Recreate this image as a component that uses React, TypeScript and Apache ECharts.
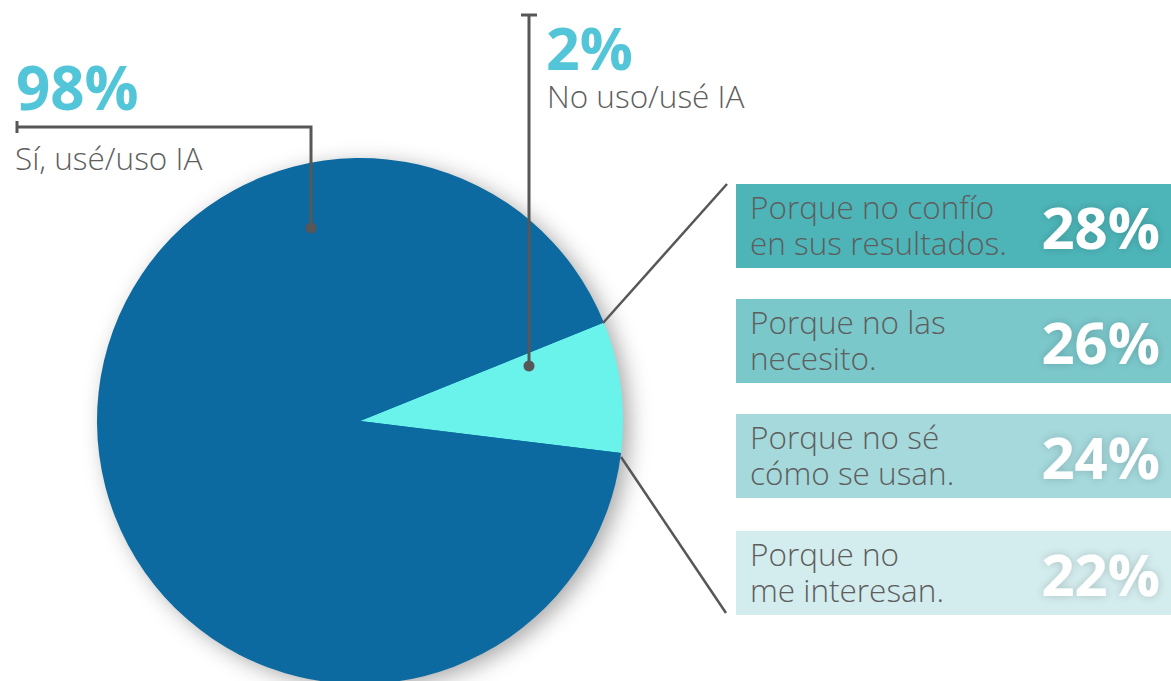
import React, { useEffect, useRef } from "react";
import * as echarts from "echarts";

// ---- data ----
const pieNames = ["No uso/usé IA", "Sí, usé/uso IA"];
const pieValues = [2, 98];
const pieColors = ["#6af3ea", "#0c6aa1"];

const reasons = [
  ["Porque no confío", "en sus resultados."],
  ["Porque no las", "necesito."],
  ["Porque no sé", "cómo se usan."],
  ["Porque no", "me interesan."],
];
const reasonValues = [28, 26, 24, 22];
const reasonColors = ["#4db5b8", "#7bc8cb", "#a5d9dc", "#d3eced"];

const FONT = "'Open Sans', 'Noto Sans', sans-serif";
const GREY_TXT = "#5e5e5e";
const LINE = "#575757";
const ACCENT = "#52c6d8";

export default function App() {
  const ref = useRef<HTMLDivElement>(null);

  useEffect(() => {
    if (!ref.current) return;
    const chart = echarts.init(ref.current, null, { renderer: "svg" });

    const boxTop = [184, 299, 414, 531];
    const boxH = 84;
    const boxX = 736;
    const boxW = 435;

    const graphics: any[] = [];
    reasons.forEach((lines, i) => {
      const y0 = boxTop[i];
      const cy = y0 + boxH / 2;
      graphics.push({
        type: "rect",
        z: 100,
        shape: { x: boxX, y: y0, width: boxW, height: boxH },
        style: { fill: reasonColors[i] },
      });
      lines.forEach((ln, j) => {
        graphics.push({
          type: "text",
          z: 101,
          x: 750,
          y: cy - 20 + j * 36,
          style: {
            text: ln,
            font: `300 31.5px ${FONT}`,
            fill: GREY_TXT,
            align: "left",
            verticalAlign: "middle",
          },
        });
      });
      graphics.push({
        type: "text",
        z: 101,
        x: 1160,
        y: cy,
        style: {
          text: `${reasonValues[i]}%`,
          font: `700 58px ${FONT}`,
          fill: "#ffffff",
          align: "right",
          verticalAlign: "middle",
          textShadowColor: "rgba(0,0,0,0.18)",
          textShadowBlur: 8,
        },
      });
    });

    // 98% callout
    graphics.push(
      {
        type: "text",
        z: 101,
        x: 16,
        y: 87,
        style: {
          text: `${pieValues[1]}%`,
          font: `700 60px ${FONT}`,
          fill: ACCENT,
          align: "left",
          verticalAlign: "middle",
        },
      },
      {
        type: "text",
        z: 101,
        x: 15,
        y: 157,
        style: {
          text: pieNames[1],
          font: `300 31.5px ${FONT}`,
          fill: GREY_TXT,
          align: "left",
          verticalAlign: "middle",
        },
      },
      {
        type: "polyline",
        z: 101,
        shape: { points: [[17, 127], [311, 127], [311, 228]] },
        style: { stroke: LINE, lineWidth: 3, fill: null },
      },
      {
        type: "line",
        z: 101,
        shape: { x1: 17, y1: 121, x2: 17, y2: 133 },
        style: { stroke: LINE, lineWidth: 3 },
      },
      {
        type: "circle",
        z: 102,
        shape: { cx: 311, cy: 228, r: 5.5 },
        style: { fill: LINE },
      }
    );

    // 2% callout
    graphics.push(
      {
        type: "text",
        z: 101,
        x: 546,
        y: 47,
        style: {
          text: `${pieValues[0]}%`,
          font: `700 59px ${FONT}`,
          fill: ACCENT,
          align: "left",
          verticalAlign: "middle",
        },
      },
      {
        type: "text",
        z: 101,
        x: 547,
        y: 95,
        style: {
          text: pieNames[0],
          font: `300 31.5px ${FONT}`,
          fill: GREY_TXT,
          align: "left",
          verticalAlign: "middle",
        },
      },
      {
        type: "line",
        z: 101,
        shape: { x1: 529, y1: 15, x2: 529, y2: 366 },
        style: { stroke: LINE, lineWidth: 3 },
      },
      {
        type: "line",
        z: 101,
        shape: { x1: 521, y1: 15, x2: 537, y2: 15 },
        style: { stroke: LINE, lineWidth: 3 },
      },
      {
        type: "circle",
        z: 102,
        shape: { cx: 529, cy: 366, r: 5.5 },
        style: { fill: LINE },
      }
    );

    // connectors from slice to boxes
    graphics.push(
      {
        type: "line",
        z: 101,
        shape: { x1: 603, y1: 323, x2: 727, y2: 184 },
        style: { stroke: LINE, lineWidth: 2.5 },
      },
      {
        type: "line",
        z: 101,
        shape: { x1: 621, y1: 457, x2: 726, y2: 613 },
        style: { stroke: LINE, lineWidth: 2.5 },
      }
    );

    chart.setOption({
      animation: false,
      backgroundColor: "#ffffff",
      series: [
        {
          type: "pie",
          silent: true,
          center: [360, 421],
          radius: 262,
          z: 1,
          label: { show: false },
          labelLine: { show: false },
          data: [
            {
              value: 1,
              itemStyle: {
                color: "#0c6aa1",
                shadowBlur: 22,
                shadowColor: "rgba(0,0,0,0.35)",
                shadowOffsetX: 7,
                shadowOffsetY: 5,
              },
            },
          ],
        },
        {
          type: "pie",
          silent: true,
          center: [360, 421],
          radius: 263,
          startAngle: 22,
          minAngle: 29,
          clockwise: true,
          z: 2,
          label: { show: false },
          labelLine: { show: false },
          itemStyle: { borderWidth: 0 },
          data: pieValues.map((v, i) => ({
            name: pieNames[i],
            value: v,
            itemStyle: { color: pieColors[i] },
          })),
        },
      ],
      graphic: graphics,
    });

    return () => chart.dispose();
  }, []);

  return (
    <div
      ref={ref}
      style={{ position: "absolute", left: 0, top: 0, width: 1171, height: 681 }}
    />
  );
}
